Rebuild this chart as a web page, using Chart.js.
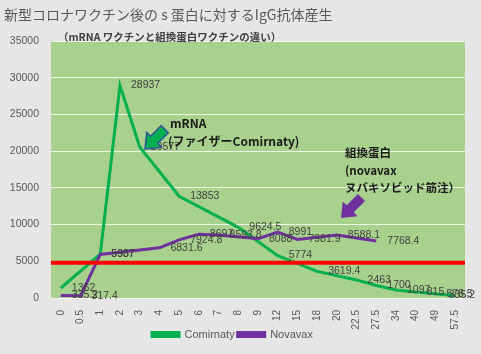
<!DOCTYPE html>
<html lang="ja">
<head>
  <meta charset="UTF-8" />
  <title>IgG抗体産生</title>
  <script src="https://cdn.jsdelivr.net/npm/chart.js"></script>
  <style>
    html, body {
      margin: 0;
      padding: 0;
      background: #e7e6e6;
    }
    #wrap {
      width: 481px;
      height: 354px;
      position: relative;
    }
  </style>
</head>
<body>
  <div id="wrap">
    <canvas id="chart" width="481" height="354"></canvas>
  </div>

  <script>
    // data
    const days = ['0', '0.5', '1', '2', '3', '4', '5', '6', '7', '8', '9',
                  '12', '15', '18', '20', '22.5', '27.5', '34', '40', '49', '57.5'];
    const comirnaty = [1362, null, 5987, 28937, 20577, null, 13853, null, null, 9624.5, null,
                       5774, null, 3619.4, null, 2463, 1700, 1097, 815, 578.5, 335.2];
    const novavax = [335.2, 317.4, 5937, null, null, 6831.6, 7924.8, 8697, 8593.8, null, 8088.0,
                     8991, 7981.9, null, 8588.1, null, 7768.4, null, null, null, null];
    const yTicks = [0, 5000, 10000, 15000, 20000, 25000, 30000, 35000];
    const threshold = 4800;

    const GREEN = '#00b050';
    const PURPLE = '#7030a0';
    const FONT = "'Liberation Sans', 'Noto Sans CJK JP', sans-serif";
    const JP = "'Noto Sans CJK JP', 'Noto Sans', sans-serif";

    // block arrow, tip at (tx, ty), pointing along angle
    function blockArrow(ctx, tx, ty, ang, len, headLen, headW, shaftW, fill, stroke) {
      ctx.save();
      ctx.translate(tx, ty);
      ctx.rotate(ang);
      ctx.beginPath();
      ctx.moveTo(0, 0);
      ctx.lineTo(-headLen, -headW / 2);
      ctx.lineTo(-headLen, -shaftW / 2);
      ctx.lineTo(-len, -shaftW / 2);
      ctx.lineTo(-len, shaftW / 2);
      ctx.lineTo(-headLen, shaftW / 2);
      ctx.lineTo(-headLen, headW / 2);
      ctx.closePath();
      ctx.fillStyle = fill;
      ctx.fill();
      if (stroke) {
        ctx.strokeStyle = stroke;
        ctx.lineWidth = 1.5;
        ctx.stroke();
      }
      ctx.restore();
    }

    const bgPlugin = {
      id: 'plotBg',
      beforeDraw(chart) {
        const { ctx, chartArea: a } = chart;
        ctx.save();
        ctx.fillStyle = '#e7e6e6';
        ctx.fillRect(0, 0, chart.width, chart.height);
        ctx.fillStyle = '#a9d18e';
        ctx.fillRect(a.left, a.top, a.right - a.left, a.bottom - a.top);
        ctx.restore();
      }
    };

    // pull the legend up a little, closer to the axis labels
    const legendShift = {
      id: 'legendShift',
      afterLayout(chart) {
        const l = chart.legend;
        if (!l) return;
        l.top -= 4;
        l.bottom -= 4;
      }
    };

    const overlayPlugin = {
      id: 'overlay',
      afterDatasetsDraw(chart) {
        const { ctx, chartArea: a, scales } = chart;
        ctx.save();

        // red reference line
        const ry = scales.y.getPixelForValue(threshold);
        ctx.strokeStyle = '#ff0000';
        ctx.lineWidth = 4;
        ctx.beginPath();
        ctx.moveTo(a.left, ry);
        ctx.lineTo(a.right, ry);
        ctx.stroke();

        // data labels, to the right of each point
        ctx.font = '10.5px ' + FONT;
        ctx.fillStyle = '#404040';
        ctx.textAlign = 'left';
        ctx.textBaseline = 'middle';
        chart.data.datasets.forEach((ds, i) => {
          const meta = chart.getDatasetMeta(i);
          meta.data.forEach((pt, j) => {
            const v = ds.data[j];
            if (v === null) return;
            const txt = String(v);
            const w = ctx.measureText(txt).width;
            let x = pt.x + 11;
            if (x + w > chart.width - 6) x = chart.width - 6 - w;
            ctx.fillText(txt, x, pt.y);
          });
        });

        // title + subtitle
        ctx.fillStyle = '#595959';
        ctx.font = '14px ' + JP;
        ctx.fillText('新型コロナワクチン後の s 蛋白に対するIgG抗体産生', 4, 15);
        ctx.fillStyle = '#404040';
        ctx.font = 'bold 10.5px ' + JP;
        ctx.fillText('（mRNA ワクチンと組換蛋白ワクチンの違い）', 58, 37);

        // arrows
        blockArrow(ctx, 145, 149, Math.PI * 0.75, 28, 13, 21, 10, GREEN, '#2f5597');
        blockArrow(ctx, 341, 218, Math.PI * 0.75, 29, 13, 21, 10, PURPLE, null);

        // annotations
        ctx.fillStyle = '#1a1a1a';
        ctx.font = 'bold 12px ' + JP;
        ctx.fillText('mRNA', 170, 123);
        ctx.fillText('(ファイザーComirnaty)', 168, 141);
        ctx.font = 'bold 11.5px ' + JP;
        ctx.fillText('組換蛋白', 345, 153);
        ctx.fillText('(novavax', 345, 171);
        ctx.fillText('ヌバキソビッド筋注）', 345, 188);

        ctx.restore();
      }
    };

    const ctx = document.getElementById('chart').getContext('2d');
    new Chart(ctx, {
      type: 'line',
      data: {
        labels: days,
        datasets: [
          {
            label: 'Comirnaty',
            data: comirnaty,
            borderColor: GREEN,
            backgroundColor: GREEN,
            borderWidth: 3,
            pointRadius: 0,
            spanGaps: true,
            tension: 0,
            order: 1
          },
          {
            label: 'Novavax',
            data: novavax,
            borderColor: PURPLE,
            backgroundColor: PURPLE,
            borderWidth: 3,
            pointRadius: 0,
            spanGaps: true,
            tension: 0,
            order: 0
          }
        ]
      },
      options: {
        responsive: false,
        animation: false,
        layout: { padding: { top: 41, right: 16, left: 0, bottom: 0 } },
        scales: {
          x: {
            offset: true,
            grid: { display: false },
            border: { display: false },
            ticks: {
              color: '#595959',
              font: { size: 10, family: FONT },
              minRotation: 90,
              maxRotation: 90,
              autoSkip: false,
              padding: 4
            },
            afterFit(s) { s.height = 32; }
          },
          y: {
            min: 0,
            max: 35000,
            afterBuildTicks(s) { s.ticks = yTicks.map(v => ({ value: v })); },
            grid: { color: 'rgba(255,255,255,0.8)', lineWidth: 1, drawTicks: false },
            border: { display: false },
            ticks: {
              color: '#595959',
              font: { size: 10.5, family: FONT },
              padding: 12,
              callback: v => String(v)
            },
            afterFit(s) { s.width = 51; }
          }
        },
        plugins: {
          legend: {
            position: 'bottom',
            labels: {
              color: '#595959',
              font: { size: 11, family: FONT },
              boxWidth: 27,
              boxHeight: 4,
              padding: 3,
              sort: (p, q) => p.datasetIndex - q.datasetIndex
            }
          },
          tooltip: { enabled: false }
        }
      },
      plugins: [bgPlugin, legendShift, overlayPlugin]
    });
  </script>
</body>
</html>
